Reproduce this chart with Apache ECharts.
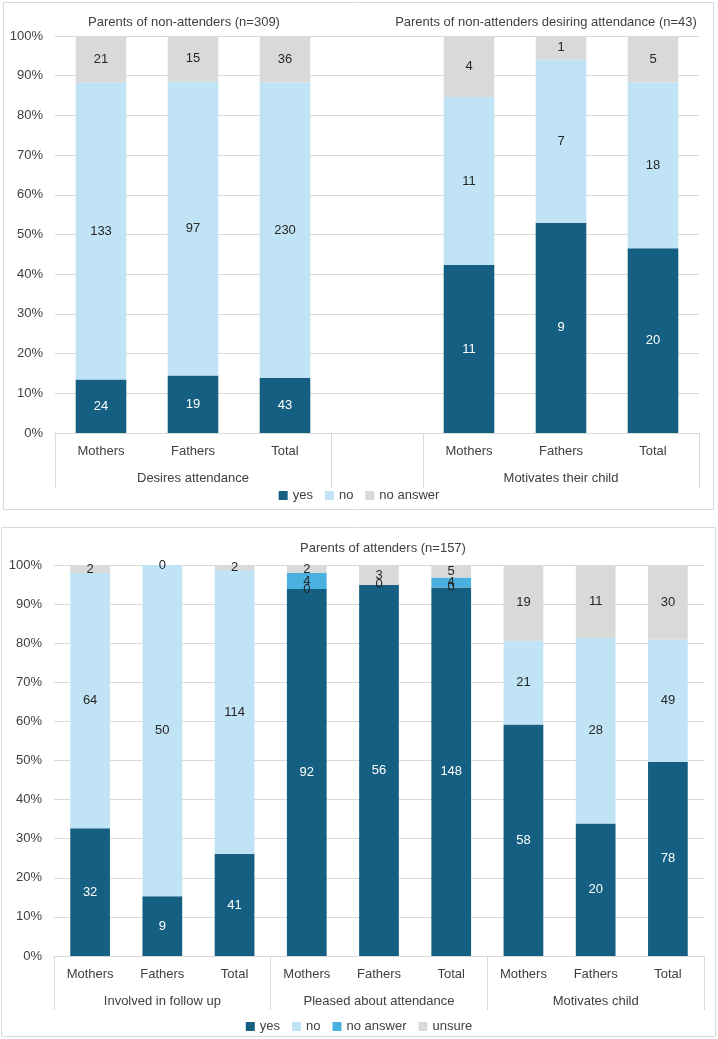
<!DOCTYPE html>
<html>
<head>
<meta charset="utf-8">
<script src="https://cdn.jsdelivr.net/npm/echarts@6/dist/echarts.min.js"></script>
<style>
  body { margin: 0; background: #fff; }
  #top { position: absolute; left: 0; top: 0; width: 718px; height: 516px; }
  #bottom { position: absolute; left: 0; top: 518px; width: 718px; height: 521px; }
</style>
</head>
<body>
<div id="top"></div>
<div id="bottom"></div>
<script>
// top panel: parents of non-attenders
var topCategories = ['Mothers', 'Fathers', 'Total', '', 'Mothers', 'Fathers', 'Total'];
var topGroups = ['', 'Desires attendance', '', '', '', 'Motivates their child', ''];
var topYes = [24, 19, 43, null, 11, 9, 20];
var topNo = [133, 97, 230, null, 11, 7, 18];
var topNoAnswer = [21, 15, 36, null, 4, 1, 5];

// bottom panel: parents of attenders
var botCategories = ['Mothers', 'Fathers', 'Total', 'Mothers', 'Fathers', 'Total', 'Mothers', 'Fathers', 'Total'];
var botGroups = ['Involved in follow up', 'Pleased about attendance', 'Motivates child'];
var botYes = [32, 9, 41, 92, 56, 148, 58, 20, 78];
var botNo = [64, 50, 114, 0, 0, 0, 21, 28, 49];
var botNoAnswer = [null, null, null, 4, null, 4, null, null, null];
var botUnsure = [2, 0, 2, 2, 3, 5, 19, 11, 30];

var FONT = 'Liberation Sans';
var colYes = '#156082', colNo = '#c0e4f5', colNA = '#4ab0e0', colGray = '#d9d9d9';

function toPct(arr, all) {
  return arr.map(function (v, i) {
    if (v === null) return null;
    var sum = 0;
    all.forEach(function (a) { sum += a[i] || 0; });
    return v / sum * 100;
  });
}

function makeSeries(name, counts, all, color, labelColor) {
  return {
    name: name,
    type: 'bar',
    stack: 'total',
    barCategoryGap: '45%',
    data: toPct(counts, all),
    itemStyle: { color: color },
    label: {
      show: true,
      position: 'inside',
      color: labelColor,
      fontFamily: FONT,
      fontSize: 13,
      formatter: function (p) { return counts[p.dataIndex]; }
    }
  };
}

function yAxisOpt() {
  return {
    type: 'value', min: 0, max: 100, interval: 10,
    axisLine: { show: false },
    axisTick: { show: false },
    axisLabel: { formatter: '{value}%', color: '#404040', fontFamily: FONT, fontSize: 13, margin: 12 },
    splitLine: { lineStyle: { color: '#d9d9d9' } }
  };
}

function textEl(x, y, str) {
  return {
    type: 'text', x: x, y: y,
    style: { text: str, fill: '#404040', font: '13px ' + FONT, align: 'center', verticalAlign: 'middle' }
  };
}

// ---- top chart
var topChart = echarts.init(document.getElementById('top'));
var topAll = [topYes, topNo, topNoAnswer];
topChart.setOption({
  animation: false,
  grid: { left: 55, right: 19, top: 36, height: 397 },
  graphic: [
    { type: 'rect', shape: { x: 3.5, y: 2.5, width: 710, height: 507 }, style: { fill: 'none', stroke: '#d9d9d9' } },
    textEl(184, 22, 'Parents of non-attenders (n=309)'),
    textEl(546, 22, 'Parents of non-attenders desiring attendance (n=43)')
  ],
  legend: {
    top: 484, left: 'center',
    data: ['yes', 'no', 'no answer'],
    icon: 'rect', itemWidth: 9, itemHeight: 9, itemGap: 12,
    textStyle: { color: '#404040', fontFamily: FONT, fontSize: 13 }
  },
  xAxis: [
    {
      type: 'category', data: topCategories,
      axisLine: { lineStyle: { color: '#d9d9d9' } },
      axisTick: { show: false },
      axisLabel: { color: '#404040', fontFamily: FONT, fontSize: 13, margin: 12, interval: 0 }
    },
    {
      type: 'category', data: topGroups, position: 'bottom',
      axisLine: { show: false },
      axisTick: {
        show: true, length: 55, lineStyle: { color: '#d9d9d9' },
        interval: function (idx) { return idx === 0 || idx === 3 || idx === 4; }
      },
      axisLabel: { color: '#404040', fontFamily: FONT, fontSize: 13, margin: 39, interval: 0 }
    }
  ],
  yAxis: yAxisOpt(),
  series: [
    makeSeries('yes', topYes, topAll, colYes, '#ffffff'),
    makeSeries('no', topNo, topAll, colNo, '#262626'),
    makeSeries('no answer', topNoAnswer, topAll, colGray, '#262626')
  ]
});

// ---- bottom chart
var botChart = echarts.init(document.getElementById('bottom'));
var botAll = [botYes, botNo, botNoAnswer, botUnsure];
botChart.setOption({
  animation: false,
  grid: { left: 54, right: 14, top: 47, height: 391 },
  graphic: [
    { type: 'rect', shape: { x: 1.5, y: 9.5, width: 714, height: 509 }, style: { fill: 'none', stroke: '#d9d9d9' } },
    textEl(383, 30, 'Parents of attenders (n=157)')
  ],
  legend: {
    top: 497, left: 'center',
    data: ['yes', 'no', 'no answer', 'unsure'],
    icon: 'rect', itemWidth: 9, itemHeight: 9, itemGap: 12,
    textStyle: { color: '#404040', fontFamily: FONT, fontSize: 13 }
  },
  xAxis: [
    {
      type: 'category', data: botCategories,
      axisLine: { lineStyle: { color: '#d9d9d9' } },
      axisTick: { show: false },
      axisLabel: { color: '#404040', fontFamily: FONT, fontSize: 13, margin: 12, interval: 0 }
    },
    {
      type: 'category', data: botGroups, position: 'bottom',
      axisLine: { show: false },
      axisTick: { show: true, length: 54, lineStyle: { color: '#d9d9d9' } },
      axisLabel: { color: '#404040', fontFamily: FONT, fontSize: 13, margin: 39, interval: 0 }
    }
  ],
  yAxis: yAxisOpt(),
  series: [
    makeSeries('yes', botYes, botAll, colYes, '#ffffff'),
    makeSeries('no', botNo, botAll, colNo, '#262626'),
    makeSeries('no answer', botNoAnswer, botAll, colNA, '#262626'),
    makeSeries('unsure', botUnsure, botAll, colGray, '#262626')
  ]
});
</script>
</body>
</html>
